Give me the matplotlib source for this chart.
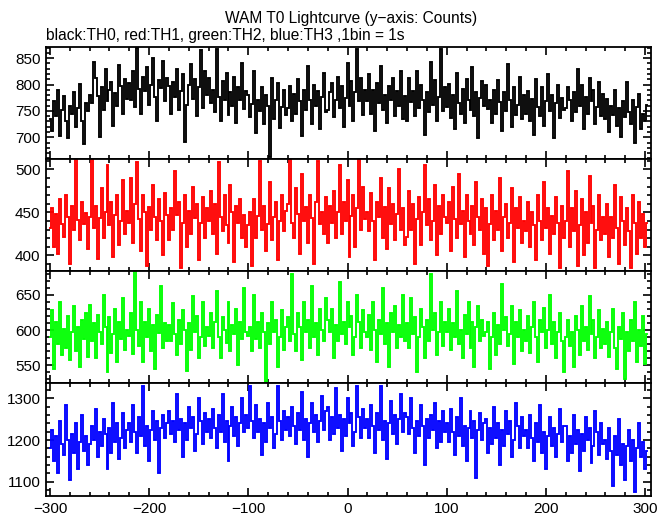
import numpy as np
import matplotlib
matplotlib.use("Agg")
import matplotlib.pyplot as plt
from matplotlib.ticker import MultipleLocator

plt.rcParams["font.family"] = ["Liberation Sans", "DejaVu Sans"]

# time bins (s), read every 2 s from the picture
t = np.arange(-300, 304, 2)

th0 = [735, 712, 768, 741, 790, 703, 752, 779, 730, 698, 760, 744, 785, 720, 756, 801, 731, 688, 765, 750,
       781, 765, 842, 812, 778, 700, 795, 752, 829, 768, 790, 805, 721, 783, 760, 836, 798, 745, 810, 772,
       803, 770, 826, 758, 869, 792, 745, 815, 788, 834, 762, 800, 851, 777, 730, 808, 793, 845, 768, 812,
       798, 745, 805, 776, 830, 752, 787, 819, 692, 761, 800, 838, 772, 810, 740, 795, 866, 756, 825, 781,
       812, 765, 790, 748, 868, 776, 731, 806, 770, 822, 742, 785, 760, 815, 728, 796, 771, 840, 753, 787,
       780, 738, 763, 826, 708, 771, 750, 795, 726, 781, 760, 662, 812, 735, 770, 803, 718, 758, 790, 742,
       755, 798, 730, 782, 745, 810, 768, 702, 790, 752, 835, 771, 725, 800, 760, 788, 715, 776, 821, 748,
       752, 786, 802, 738, 770, 815, 755, 798, 720, 775, 840, 760, 806, 730, 785, 868, 768, 812, 742, 790,
       768, 820, 745, 790, 712, 803, 765, 835, 752, 781, 728, 798, 770, 812, 740, 787, 760, 826, 735, 779,
       730, 812, 766, 788, 740, 825, 756, 800, 771, 705, 785, 748, 842, 762, 809, 731, 776, 868, 750, 795,
       758, 801, 736, 780, 715, 822, 765, 745, 792, 728, 810, 770, 752, 833, 741, 786, 699, 775, 806, 760,
       800, 754, 770, 728, 790, 745, 808, 766, 712, 785, 750, 838, 771, 720, 795, 742, 762, 815, 735, 780,
       745, 788, 730, 772, 705, 810, 758, 740, 795, 722, 768, 820, 750, 780, 698, 765, 800, 736, 775, 752,
       755, 796, 770, 730, 785, 748, 830, 760, 800, 715, 776, 744, 812, 768, 790, 725, 758, 805, 740, 782,
       735, 772, 710, 760, 742, 790, 722, 755, 700, 768, 738, 805, 748, 726, 770, 690, 758, 782, 715, 745,
       730, 762]

th1 = [432, 455, 410, 448, 402, 466, 437, 421, 470, 445, 390, 458, 430, 515, 441, 418, 462, 436, 449, 408,
       445, 512, 432, 458, 396, 443, 478, 420, 450, 505, 435, 462, 398, 447, 470, 412, 440, 488, 425, 452,
       438, 490, 415, 460, 508, 442, 405, 470, 450, 388, 456, 430, 482, 445, 418, 465, 440, 400, 472, 447,
       418, 455, 430, 498, 447, 462, 385, 438, 470, 410, 452, 425, 480, 444, 460, 395, 438, 468, 420, 455,
       440, 475, 425, 460, 402, 508, 445, 428, 470, 435, 415, 482, 450, 392, 458, 438, 465, 420, 447, 410,
       435, 450, 388, 465, 420, 446, 510, 430, 458, 405, 436, 485, 418, 445, 462, 395, 440, 470, 428, 452,
       460, 512, 438, 420, 478, 448, 402, 495, 440, 456, 415, 470, 443, 390, 462, 510, 436, 450, 425, 468,
       415, 458, 438, 475, 420, 450, 505, 425, 462, 440, 488, 398, 446, 470, 410, 455, 512, 430, 480, 442,
       450, 428, 472, 440, 395, 462, 445, 490, 420, 456, 408, 478, 437, 460, 418, 448, 500, 430, 455, 412,
       422, 475, 430, 460, 390, 442, 468, 412, 450, 505, 435, 465, 418, 440, 482, 400, 458, 425, 470, 445,
       438, 462, 405, 480, 442, 420, 495, 436, 452, 398, 470, 440, 425, 458, 412, 485, 445, 430, 465, 402,
       455, 388, 436, 470, 418, 452, 430, 490, 405, 445, 460, 420, 438, 478, 392, 455, 432, 468, 415, 440,
       428, 462, 410, 450, 435, 395, 470, 440, 418, 485, 432, 455, 402, 446, 425, 468, 438, 385, 458, 420,
       440, 498, 410, 455, 428, 475, 388, 435, 465, 400, 450, 415, 492, 438, 458, 385, 430, 470, 418, 445,
       425, 460, 398, 445, 420, 482, 432, 390, 468, 440, 412, 455, 428, 385, 470, 438, 402, 462, 420, 448,
       410, 438]

th2 = [590, 628, 545, 612, 580, 640, 565, 602, 575, 620, 558, 598, 635, 570, 605, 548, 615, 588, 625, 562,
       636, 585, 610, 560, 622, 598, 580, 650, 605, 540, 618, 568, 595, 630, 555, 612, 588, 645, 572, 600,
       592, 625, 566, 684, 600, 578, 640, 555, 612, 590, 630, 570, 608, 545, 622, 596, 662, 575, 610, 585,
       608, 585, 638, 595, 565, 615, 580, 628, 600, 542, 610, 572, 648, 598, 620, 560, 590, 640, 578, 605,
       592, 625, 575, 612, 655, 590, 560, 618, 600, 582, 640, 570, 608, 595, 630, 550, 612, 588, 660, 598,
       592, 605, 570, 650, 588, 612, 575, 625, 598, 526, 610, 580, 640, 598, 615, 548, 590, 628, 572, 605,
       618, 585, 680, 595, 570, 625, 604, 558, 640, 598, 615, 575, 662, 590, 610, 565, 630, 600, 585, 645,
       615, 598, 630, 560, 608, 585, 668, 595, 612, 580, 640, 605, 620, 565, 590, 650, 612, 575, 628, 598,
       590, 622, 572, 640, 600, 555, 615, 595, 660, 580, 610, 548, 625, 598, 635, 575, 608, 590, 650, 585,
       610, 575, 645, 595, 618, 540, 590, 630, 605, 560, 615, 585, 680, 600, 625, 565, 598, 640, 578, 612,
       598, 630, 572, 610, 590, 655, 580, 600, 560, 622, 595, 640, 575, 612, 548, 605, 635, 585, 615, 592,
       598, 612, 545, 590, 625, 565, 608, 580, 665, 600, 618, 578, 595, 635, 552, 612, 590, 628, 570, 600,
       585, 620, 568, 605, 640, 590, 555, 615, 598, 632, 575, 600, 650, 580, 612, 560, 598, 625, 585, 540,
       590, 615, 578, 598, 548, 620, 600, 565, 635, 585, 605, 572, 648, 595, 615, 560, 590, 628, 575, 602,
       580, 612, 562, 598, 630, 575, 545, 605, 588, 625, 530, 598, 570, 615, 585, 640, 555, 600, 578, 620,
       552, 595]

th3 = [1180, 1225, 1150, 1210, 1120, 1245, 1190, 1165, 1285, 1200, 1105, 1215, 1170, 1240, 1130, 1195, 1260, 1175, 1210, 1140,
       1190, 1235, 1200, 1275, 1160, 1220, 1185, 1250, 1215, 1130, 1230, 1170, 1290, 1195, 1240, 1155, 1205, 1265, 1180, 1225,
       1240, 1195, 1285, 1220, 1170, 1255, 1210, 1330, 1185, 1235, 1150, 1225, 1270, 1200, 1245, 1120, 1230, 1260, 1205, 1240,
       1270, 1215, 1245, 1195, 1310, 1225, 1250, 1160, 1240, 1200, 1280, 1230, 1255, 1175, 1215, 1300, 1245, 1190, 1265, 1220,
       1250, 1205, 1275, 1230, 1180, 1260, 1220, 1310, 1195, 1245, 1150, 1235, 1280, 1210, 1255, 1185, 1240, 1300, 1220, 1260,
       1230, 1330, 1245, 1205, 1285, 1220, 1250, 1165, 1240, 1195, 1290, 1230, 1255, 1180, 1215, 1330, 1245, 1200, 1270, 1225,
       1255, 1210, 1280, 1235, 1190, 1265, 1225, 1315, 1200, 1250, 1160, 1240, 1290, 1220, 1260, 1195, 1245, 1305, 1225, 1270,
       1280, 1200, 1255, 1215, 1325, 1230, 1260, 1175, 1250, 1210, 1300, 1240, 1265, 1185, 1220, 1330, 1255, 1205, 1275, 1230,
       1250, 1205, 1285, 1235, 1170, 1265, 1225, 1330, 1200, 1245, 1155, 1240, 1295, 1215, 1260, 1190, 1250, 1310, 1220, 1265,
       1255, 1215, 1300, 1230, 1170, 1245, 1210, 1285, 1235, 1140, 1250, 1205, 1260, 1225, 1290, 1180, 1245, 1195, 1270, 1220,
       1240, 1195, 1275, 1220, 1165, 1255, 1210, 1300, 1185, 1235, 1150, 1230, 1270, 1205, 1245, 1110, 1225, 1265, 1200, 1240,
       1250, 1170, 1230, 1190, 1280, 1205, 1240, 1140, 1225, 1185, 1270, 1215, 1245, 1160, 1200, 1290, 1235, 1180, 1255, 1210,
       1225, 1180, 1260, 1205, 1150, 1240, 1195, 1285, 1170, 1220, 1130, 1210, 1255, 1185, 1230, 1160, 1215, 1275, 1195, 1235,
       1235, 1150, 1210, 1170, 1260, 1190, 1225, 1125, 1215, 1175, 1255, 1200, 1230, 1145, 1185, 1270, 1220, 1165, 1240, 1190,
       1200, 1155, 1230, 1175, 1090, 1210, 1165, 1250, 1140, 1190, 1105, 1185, 1225, 1150, 1200, 1075, 1180, 1240, 1160, 1195,
       1130, 1175]

series = [th0, th1, th2, th3]
colors = ["black", "red", "#00ff00", "blue"]
ylims = [(659, 871), (382, 512), (525, 684), (1066, 1337)]
ymajor = [50, 50, 50, 100]
yminor = [10, 10, 10, 20]

fig = plt.figure(figsize=(6.61, 5.15), dpi=100)
W, H = 661, 515
edges = [47, 159, 271, 383, 496]   # panel borders in pixels from top
left, right = 46, 651

axes = []
for i in range(4):
    top, bot = edges[i], edges[i + 1]
    ax = fig.add_axes([left / W, 1 - bot / H, (right - left) / W, (bot - top) / H])
    ax.plot(t, series[i], color=colors[i], lw=1.35, drawstyle="steps-mid",
            solid_joinstyle="miter")
    ax.set_xlim(-304, 306)
    ax.set_ylim(*ylims[i])
    ax.xaxis.set_major_locator(MultipleLocator(100))
    ax.xaxis.set_minor_locator(MultipleLocator(20))
    ax.yaxis.set_major_locator(MultipleLocator(ymajor[i]))
    ax.yaxis.set_minor_locator(MultipleLocator(yminor[i]))
    ax.tick_params(which="both", direction="in", top=True, right=True, width=1.2,
                   labelsize=11, pad=4)
    ax.tick_params(which="major", length=6)
    ax.tick_params(which="minor", length=3)
    for s in ax.spines.values():
        s.set_linewidth(1.3)
    if i < 3:
        ax.tick_params(labelbottom=False)
    axes.append(ax)

fig.text(0.531, 1 - 23 / H, "WAM T0 Lightcurve (y\u2212axis: Counts)", ha="center",
         va="baseline", fontsize=11.2)
fig.text(46 / W, 1 - 40 / H, "black:TH0, red:TH1, green:TH2, blue:TH3 ,1bin = 1s",
         ha="left", va="baseline", fontsize=11.2)

fig.savefig("out.png", dpi=100)
